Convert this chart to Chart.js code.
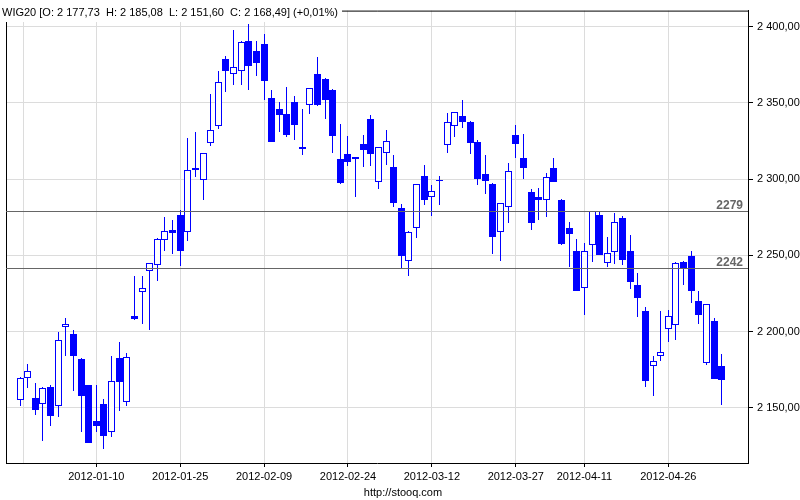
<!DOCTYPE html>
<html><head><meta charset="utf-8">
<script src="https://cdn.jsdelivr.net/npm/chart.js@4/dist/chart.umd.min.js"></script>
<style>html,body{margin:0;padding:0;background:#fff}</style>
</head><body>
<canvas id="c" width="800" height="500"></canvas>
<script>
// OHLC per trading day (index 0 = 2011-12-23 ... index 92 = last session)
const openP  = [2155.2,2169.5,2156.7,2152.6,2163.9,2151.3,2203.2,2198.3,2182.0,2165.1,
                2141.1,2152.8,2134.2,2182.7,2153.9,2210.0,2226.0,2239.6,2243.5,2260.4,
                2266.9,2276.8,2265.6,2307.1,2299.4,2324.0,2335.1,2378.6,2368.8,2370.8,
                2390.9,2383.8,2388.5,2353.5,2345.9,2343.0,2350.9,2321.0,2348.7,2369.0,
                2365.8,2358.7,2313.2,2316.5,2314.3,2322.9,2339.2,2298.1,2316.9,2308.0,
                2281.4,2246.1,2268.2,2301.9,2288.3,2298.6,2322.7,2335.1,2341.6,2337.7,
                2324.2,2303.5,2297.0,2265.6,2281.8,2329.2,2313.6,2291.6,2288.5,2286.4,
                2307.6,2286.4,2268.2,2253.2,2228.8,2256.9,2276.4,2245.2,2252.4,2274.7,
                2253.2,2230.3,2213.4,2177.7,2184.2,2201.7,2204.5,2245.8,2249.8,2219.9,
                2179.7,2206.9,2177.73];
const highP  = [2170.0,2178.8,2166.4,2163.5,2165.2,2199.6,2208.7,2201.3,2182.5,2165.3,
                2165.2,2156.1,2184.0,2193.1,2186.1,2236.6,2236.6,2245.0,2261.2,2275.5,
                2272.9,2279.9,2326.8,2330.7,2317.1,2356.1,2370.8,2380.5,2397.6,2390.5,
                2401.7,2390.9,2395.0,2358.7,2350.9,2360.6,2354.3,2346.3,2359.9,2379.9,
                2366.2,2358.9,2335.9,2328.1,2314.5,2328.8,2342.4,2321.0,2332.0,2315.8,
                2283.8,2265.8,2297.0,2309.3,2296.1,2302.2,2343.1,2344.4,2352.2,2337.9,
                2325.8,2315.8,2297.4,2284.6,2310.4,2335.3,2329.4,2293.5,2294.4,2304.1,
                2313.8,2287.2,2272.1,2261.0,2257.9,2279.2,2278.6,2262.3,2277.9,2276.0,
                2263.4,2238.7,2216.2,2184.2,2213.6,2214.1,2245.4,2246.0,2252.6,2226.4,
                2218.2,2208.9,2185.08];
const lowP   = [2150.9,2163.0,2145.0,2128.4,2138.1,2143.9,2184.2,2160.8,2134.2,2127.0,
                2134.2,2122.7,2131.0,2147.8,2150.9,2207.4,2205.0,2201.1,2232.9,2253.0,
                2251.1,2243.3,2259.5,2301.7,2286.1,2321.9,2332.9,2356.9,2361.7,2362.1,
                2358.2,2368.0,2351.7,2324.3,2330.7,2327.7,2325.8,2316.0,2342.6,2348.3,
                2339.4,2317.3,2297.0,2308.9,2288.1,2308.2,2308.9,2293.3,2309.5,2282.0,
                2240.9,2236.4,2261.5,2282.9,2275.8,2282.9,2317.3,2327.7,2333.5,2316.7,
                2296.5,2290.5,2251.1,2246.1,2271.2,2313.9,2299.8,2266.7,2273.4,2275.1,
                2298.2,2256.9,2242.2,2226.4,2211.0,2245.6,2250.2,2242.2,2244.4,2244.0,
                2227.7,2209.3,2163.9,2157.8,2180.7,2193.1,2194.6,2230.5,2219.0,2204.8,
                2178.4,2168.8,2151.60];
const closeP = [2169.5,2174.2,2148.5,2163.0,2144.6,2194.8,2204.8,2184.2,2157.6,2127.1,
                2138.1,2131.6,2167.7,2166.7,2183.3,2208.2,2228.6,2244.8,2261.0,2266.0,
                2264.9,2253.0,2305.8,2306.3,2316.9,2332.5,2363.6,2370.8,2373.8,2390.3,
                2374.5,2376.4,2364.1,2324.5,2342.0,2328.9,2335.5,2319.5,2359.8,2348.5,
                2351.7,2328.4,2297.2,2311.5,2313.4,2319.3,2316.7,2320.8,2325.3,2284.4,
                2249.8,2265.6,2296.8,2286.1,2292.2,2298.9,2337.7,2344.2,2337.7,2323.8,
                2299.8,2298.5,2262.1,2284.4,2305.2,2323.2,2307.6,2271.2,2286.4,2301.3,
                2298.4,2257.2,2263.9,2226.6,2252.6,2279.0,2250.4,2251.7,2271.9,2247.2,
                2232.7,2222.3,2167.7,2181.0,2186.8,2210.2,2245.2,2241.6,2226.4,2210.8,
                2218.0,2169.0,2168.49];

const tickIdx    = [0.5, 10, 21, 32, 43, 54, 65, 74, 85];
const tickLabels = ['', '2012-01-10', '2012-01-25', '2012-02-09', '2012-02-24',
                    '2012-03-12', '2012-03-27', '2012-04-11', '2012-04-26'];
const yTicks     = [2150, 2200, 2250, 2300, 2350, 2400];
const refLevels  = [2279, 2242];
const refLabels  = ['2279', '2242'];
const titleText  = 'WIG20 [O: 2 177,73  H: 2 185,08  L: 2 151,60  C: 2 168,49] (+0,01%)';
const footerText = 'http://stooq.com';

const BLUE = '#0000ff';
const FONT = "'Liberation Sans', Arial, sans-serif";

function fmtPL(v) {
  const s = v.toFixed(2).split('.');
  const ip = s[0].replace(/\B(?=(\d{3})+(?!\d))/g, ' ');
  return ip + ',' + s[1];
}

const snapPlugin = {
  id: 'snap',
  beforeDatasetsDraw(chart) {
    chart.data.datasets.forEach((ds, di) => {
      const meta = chart.getDatasetMeta(di);
      meta.data.forEach(el => {
        el.x = Math.floor(el.x) + 0.5;
        let y = Math.round(el.y), b = Math.round(el.base);
        if (y === b) { y = b - 1; }
        el.y = y; el.base = b;
      });
    });
  }
};

const framePlugin = {
  id: 'frame',
  beforeDatasetsDraw(chart) {
    const {ctx, chartArea: a} = chart;
    ctx.save();
    ctx.strokeStyle = '#000';
    ctx.lineWidth = 1;
    ctx.beginPath();
    ctx.moveTo(a.left + 0.5, a.bottom);
    ctx.lineTo(a.left + 0.5, a.top + 0.5);
    ctx.lineTo(a.right, a.top + 0.5);
    ctx.stroke();
    ctx.restore();
  },
  afterDatasetsDraw(chart) {
    const {ctx, chartArea: a, scales} = chart;
    ctx.save();
    refLevels.forEach((v, k) => {
      const y = Math.round(scales.y.getPixelForValue(v)) + 0.5;
      ctx.strokeStyle = '#666';
      ctx.lineWidth = 1;
      ctx.beginPath();
      ctx.moveTo(a.left, y);
      ctx.lineTo(a.right, y);
      ctx.stroke();
      ctx.fillStyle = '#666';
      ctx.font = 'bold 12px ' + FONT;
      ctx.textAlign = 'right';
      ctx.textBaseline = 'alphabetic';
      ctx.fillText(refLabels[k], a.right - 5, y - 3);
    });
    ctx.restore();
  },
  afterDraw(chart) {
    const {ctx, width} = chart;
    ctx.save();
    ctx.font = '11px ' + FONT;
    const w = ctx.measureText(titleText).width;
    ctx.fillStyle = '#fff';
    ctx.fillRect(0, 0, w + 6, 22);
    ctx.fillStyle = '#000';
    ctx.textAlign = 'left';
    ctx.textBaseline = 'alphabetic';
    ctx.fillText(titleText, 2, 16);
    ctx.font = '11px ' + FONT;
    ctx.textAlign = 'center';
    ctx.fillText(footerText, width / 2 + 3, 496);
    ctx.restore();
  }
};

new Chart(document.getElementById('c'), {
  type: 'bar',
  data: {
    datasets: [
      {
        label: 'body',
        data: openP.map((o, i) => ({x: i, y: [o, closeP[i]]})),
        backgroundColor: ctx => (closeP[ctx.dataIndex] >= openP[ctx.dataIndex] ? '#ffffff' : BLUE),
        borderColor: BLUE,
        borderWidth: 1,
        borderSkipped: false,
        barThickness: 7,
        inflateAmount: 0,
        grouped: false,
        order: 0
      },
      {
        label: 'wick',
        data: lowP.map((l, i) => ({x: i, y: [l, highP[i]]})),
        backgroundColor: BLUE,
        borderWidth: 0,
        barThickness: 1,
        inflateAmount: 0,
        grouped: false,
        order: 1
      }
    ]
  },
  options: {
    responsive: false,
    devicePixelRatio: 1,
    animation: false,
    layout: {padding: {left: 6, top: 6, right: 0, bottom: 0}},
    plugins: {legend: {display: false}, tooltip: {enabled: false}, title: {display: false}},
    scales: {
      x: {
        type: 'linear',
        position: 'bottom',
        offset: false,
        min: -1.84,
        max: 95.45,
        afterBuildTicks: s => { s.ticks = tickIdx.map(v => ({value: v})); },
        afterFit: s => { s.height = 37; },
        ticks: {
          autoSkip: false, maxRotation: 0, minRotation: 0,
          color: '#000', font: {family: FONT, size: 11}, padding: 3,
          callback: v => tickLabels[tickIdx.indexOf(v)] || ''
        },
        grid: {
          offset: false,
          color: '#dcdcdc', lineWidth: 1, tickLength: 4,
          tickColor: ctx => (ctx.tick && ctx.tick.value === 0.5 ? 'rgba(0,0,0,0)' : '#000')
        },
        border: {color: '#000', width: 1}
      },
      y: {
        type: 'linear',
        position: 'right',
        min: 2113.8,
        max: 2410.6,
        afterBuildTicks: s => { s.ticks = yTicks.map(v => ({value: v})); },
        afterFit: s => { s.width = 52; },
        ticks: {
          color: '#000', font: {family: FONT, size: 11}, padding: 4,
          callback: v => fmtPL(v)
        },
        grid: {color: '#dcdcdc', lineWidth: 1, tickLength: 5, tickColor: '#000'},
        border: {color: '#000', width: 1}
      }
    }
  },
  plugins: [snapPlugin, framePlugin]
});
</script>
</body></html>
